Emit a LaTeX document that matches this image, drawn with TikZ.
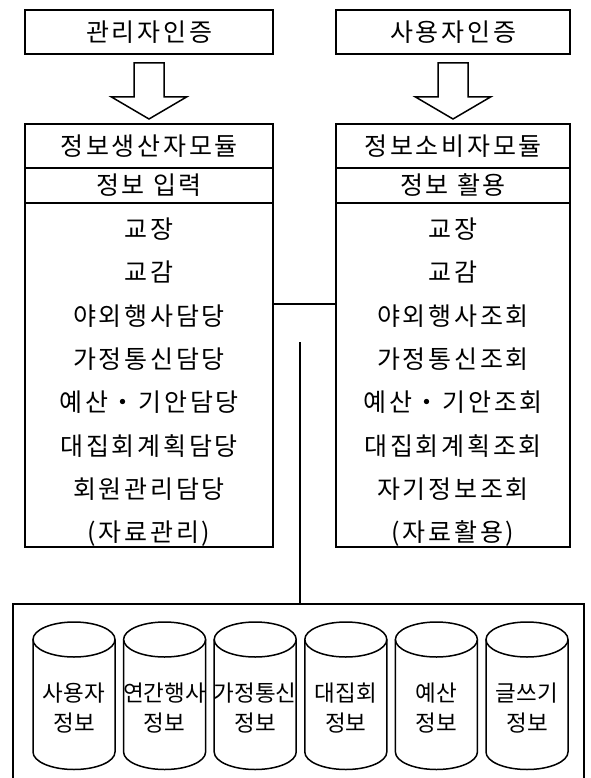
\documentclass[tikz,border=0pt]{standalone}
\usepackage{fontspec}
\newfontfamily\kor[LetterSpace=11]{Noto Sans CJK KR}
\newfontfamily\korsans{Noto Sans CJK KR}
\usetikzlibrary{calc,positioning}

\begin{document}
\begin{tikzpicture}[x=1pt,y=1pt,
    box/.style={draw, line width=1.5pt, outer sep=0pt, inner sep=0pt,
      font=\kor\fontsize{25}{28}\selectfont},
    items/.style={box, align=center, font=\kor\fontsize{25}{43.3}\selectfont},
    fatarrow/.style={draw, line width=1.5pt, line join=miter},
    dbtext/.style={align=center, font=\korsans\fontsize{22.5}{30}\selectfont}]
  \useasboundingbox (0,0) rectangle (590,-778);
  % login boxes
  \node[box, minimum width=248pt, minimum height=44pt] (adm) at (149,-32) {관리자인증};
  \node[box, minimum width=234pt, minimum height=44pt] (usr) at (453,-32) {사용자인증};
  % producer module
  \node[box, minimum width=248pt, minimum height=44pt, anchor=north] (prodT) at (149,-124) {정보생산자모듈};
  \node[box, minimum width=248pt, minimum height=35pt, below=0pt of prodT] (prodS) {정보 입력};
  \node[items, minimum width=248pt, minimum height=344pt, below=0pt of prodS] (prodL)
    {\rule{0pt}{35pt}교장\\교감\\야외행사담당\\가정통신담당\\예산・기안담당\\대집회계획담당\\회원관리담당\\(자료관리)};
  % consumer module
  \node[box, minimum width=234pt, minimum height=44pt, anchor=north] (consT) at (453,-124) {정보소비자모듈};
  \node[box, minimum width=234pt, minimum height=35pt, below=0pt of consT] (consS) {정보 활용};
  \node[items, minimum width=234pt, minimum height=344pt, below=0pt of consS] (consL)
    {\rule{0pt}{35pt}교장\\교감\\야외행사조회\\가정통신조회\\예산・기안조회\\대집회계획조회\\자기정보조회\\(자료활용)};
  % block arrows
  \foreach \a/\b in {adm/prodT, usr/consT}
    \draw[fatarrow] ($(\a.south)+(-15,-9)$) -- ++(30,0) -- ++(0,-34) -- ++(22.5,0)
      -- ($(\b.north)+(0,5)$) -- ($(\a.south)+(-37.5,-43)$) -- ($(\a.south)+(-15,-43)$) -- cycle;
  % database box
  \node[draw, line width=1.5pt, outer sep=0pt, minimum width=571pt, minimum height=180pt,
    anchor=north west] (db) at (13,-604) {};
  \coordinate (hub) at (300,-304);
  \coordinate (tap) at (300,-342);
  \draw[line width=1.5pt] (hub -| prodL.east) -- (hub -| consL.west);
  \draw[line width=1.5pt] (tap) -- (tap |- db.north);
  % cylinders
  \foreach \name [count=\i from 0] in {사용자, 연간행사, 가정통신, 대집회, 예산, 글쓰기} {
    \pgfmathsetmacro\cx{74+90.6*\i}
    \draw[line width=1.5pt] (\cx-41,-639.5) -- (\cx-41,-752)
      arc[start angle=180, end angle=360, x radius=41pt, y radius=17.5pt] -- (\cx+41,-639.5);
    \draw[line width=1.5pt] (\cx,-639.5) ellipse[x radius=41pt, y radius=17.5pt];
    \node[dbtext] (cyl\i) at (\cx,-708) {\name\\정보};
  }
\end{tikzpicture}
\end{document}
